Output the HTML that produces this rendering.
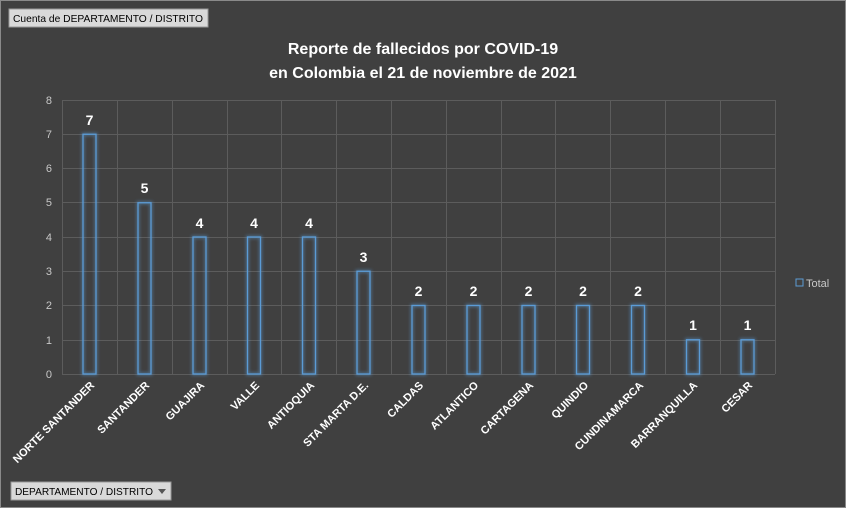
<!DOCTYPE html>
<html><head><style>
body{margin:0;background:#404040;}
svg{display:block;font-family:"Liberation Sans",sans-serif;}
</style></head><body>
<svg width="846" height="508" viewBox="0 0 846 508">
<defs><filter id="g" x="-50%" y="-50%" width="200%" height="200%"><feGaussianBlur stdDeviation="1.5"/></filter></defs>
<rect width="846" height="508" fill="#404040"/>
<rect x="0.5" y="0.5" width="845" height="507" fill="none" stroke="#8a8a8a"/>
<rect x="9" y="9" width="199" height="18" fill="#d9d9d9" stroke="#999"/>
<text x="13" y="22" font-size="10.5" fill="#000" textLength="190" lengthAdjust="spacingAndGlyphs">Cuenta de DEPARTAMENTO / DISTRITO</text>
<rect x="11" y="482" width="160" height="18" fill="#d9d9d9" stroke="#999"/>
<text x="15" y="495" font-size="10.5" fill="#000" textLength="138" lengthAdjust="spacingAndGlyphs">DEPARTAMENTO / DISTRITO</text>
<path d="M158 489 L166 489 L162 494 Z" fill="#555"/>
<text x="423" y="54" font-size="16" font-weight="bold" fill="#fff" text-anchor="middle">Reporte de fallecidos por COVID-19</text>
<text x="423" y="78" font-size="16" font-weight="bold" fill="#fff" text-anchor="middle">en Colombia el 21 de noviembre de 2021</text>
<g stroke="#5c5c5c" stroke-width="1">
<line x1="62" y1="100.5" x2="775" y2="100.5"/><line x1="62" y1="134.5" x2="775" y2="134.5"/>
<line x1="62" y1="168.5" x2="775" y2="168.5"/><line x1="62" y1="202.5" x2="775" y2="202.5"/>
<line x1="62" y1="237.5" x2="775" y2="237.5"/><line x1="62" y1="271.5" x2="775" y2="271.5"/>
<line x1="62" y1="305.5" x2="775" y2="305.5"/><line x1="62" y1="340.5" x2="775" y2="340.5"/>
<line x1="62" y1="374.5" x2="775" y2="374.5"/>
<line x1="62.5" y1="100" x2="62.5" y2="374"/><line x1="117.5" y1="100" x2="117.5" y2="374"/>
<line x1="172.5" y1="100" x2="172.5" y2="374"/><line x1="227.5" y1="100" x2="227.5" y2="374"/>
<line x1="281.5" y1="100" x2="281.5" y2="374"/><line x1="336.5" y1="100" x2="336.5" y2="374"/>
<line x1="391.5" y1="100" x2="391.5" y2="374"/><line x1="446.5" y1="100" x2="446.5" y2="374"/>
<line x1="501.5" y1="100" x2="501.5" y2="374"/><line x1="555.5" y1="100" x2="555.5" y2="374"/>
<line x1="610.5" y1="100" x2="610.5" y2="374"/><line x1="665.5" y1="100" x2="665.5" y2="374"/>
<line x1="720.5" y1="100" x2="720.5" y2="374"/><line x1="775.5" y1="100" x2="775.5" y2="374"/>
</g>
<g font-size="11" fill="#c8c8c8" text-anchor="end">
<text x="52" y="104">8</text><text x="52" y="138">7</text><text x="52" y="172">6</text>
<text x="52" y="206">5</text><text x="52" y="241">4</text><text x="52" y="275">3</text>
<text x="52" y="309">2</text><text x="52" y="344">1</text><text x="52" y="378">0</text>
</g>
<g fill="none" stroke="#5b9bd5" stroke-width="3" opacity="0.5" filter="url(#g)">
<rect x="83" y="134.25" width="13" height="239.75"/>
<rect x="138" y="202.75" width="13" height="171.25"/>
<rect x="193" y="237" width="13" height="137"/>
<rect x="247.5" y="237" width="13" height="137"/>
<rect x="302.5" y="237" width="13" height="137"/>
<rect x="357" y="271.25" width="13" height="102.75"/>
<rect x="412" y="305.5" width="13" height="68.5"/>
<rect x="467" y="305.5" width="13" height="68.5"/>
<rect x="522" y="305.5" width="13" height="68.5"/>
<rect x="576.5" y="305.5" width="13" height="68.5"/>
<rect x="631.5" y="305.5" width="13" height="68.5"/>
<rect x="686.5" y="339.75" width="13" height="34.25"/>
<rect x="741" y="339.75" width="13" height="34.25"/>
</g>
<g fill="none" stroke="#5b9bd5" stroke-width="1.3">
<rect x="83" y="134.25" width="13" height="239.75"/>
<rect x="138" y="202.75" width="13" height="171.25"/>
<rect x="193" y="237" width="13" height="137"/>
<rect x="247.5" y="237" width="13" height="137"/>
<rect x="302.5" y="237" width="13" height="137"/>
<rect x="357" y="271.25" width="13" height="102.75"/>
<rect x="412" y="305.5" width="13" height="68.5"/>
<rect x="467" y="305.5" width="13" height="68.5"/>
<rect x="522" y="305.5" width="13" height="68.5"/>
<rect x="576.5" y="305.5" width="13" height="68.5"/>
<rect x="631.5" y="305.5" width="13" height="68.5"/>
<rect x="686.5" y="339.75" width="13" height="34.25"/>
<rect x="741" y="339.75" width="13" height="34.25"/>
</g>
<g font-size="14" font-weight="bold" fill="#fff" text-anchor="middle">
<text x="89.5" y="125">7</text><text x="144.5" y="193">5</text><text x="199.5" y="228">4</text>
<text x="254" y="228">4</text><text x="309" y="228">4</text><text x="363.5" y="262">3</text>
<text x="418.5" y="296">2</text><text x="473.5" y="296">2</text><text x="528.5" y="296">2</text>
<text x="583" y="296">2</text><text x="638" y="296">2</text><text x="693" y="330">1</text>
<text x="747.5" y="330">1</text>
</g>
<g font-size="11" font-weight="bold" fill="#fff" text-anchor="end">
<text transform="translate(95,386) rotate(-45)">NORTE SANTANDER</text>
<text transform="translate(150,386) rotate(-45)">SANTANDER</text>
<text transform="translate(205,386) rotate(-45)">GUAJIRA</text>
<text transform="translate(260,386) rotate(-45)">VALLE</text>
<text transform="translate(315,386) rotate(-45)">ANTIOQUIA</text>
<text transform="translate(369,386) rotate(-45)">STA MARTA D.E.</text>
<text transform="translate(424,386) rotate(-45)">CALDAS</text>
<text transform="translate(479,386) rotate(-45)">ATLANTICO</text>
<text transform="translate(534,386) rotate(-45)">CARTAGENA</text>
<text transform="translate(589,386) rotate(-45)">QUINDIO</text>
<text transform="translate(644,386) rotate(-45)">CUNDINAMARCA</text>
<text transform="translate(698,386) rotate(-45)">BARRANQUILLA</text>
<text transform="translate(753,386) rotate(-45)">CESAR</text>
</g>
<rect x="796" y="279" width="7" height="7" fill="none" stroke="#5b9bd5"/>
<text x="806" y="287" font-size="11" fill="#c8c8c8">Total</text>
</svg>
</body></html>
